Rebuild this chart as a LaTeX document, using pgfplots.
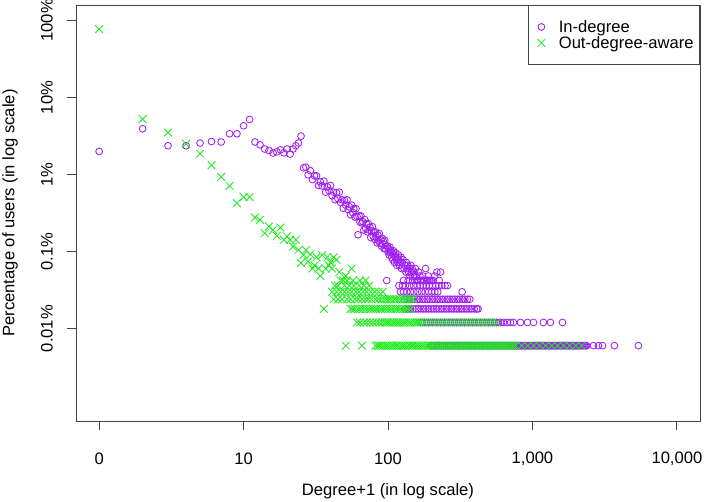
\documentclass[border=0pt]{standalone}
\usepackage{fontspec}
\setmainfont{Liberation Sans}
\usepackage{pgfplots}
\usepackage{pgfplotstable}
\pgfplotsset{compat=1.18}
\definecolor{rpurple}{RGB}{160,32,240}
\definecolor{rgreen}{RGB}{30,235,30}
\definecolor{boxgray}{RGB}{70,70,70}

\pgfplotstableread[row sep=\\]{
x y \\
1 1.99 \\ 2 3.92 \\ 3 2.36 \\ 4 2.36 \\ 5 2.56 \\ 6 2.68 \\ 7 2.64 \\ 8 3.38 \\ 9 3.38 \\ 10 4.29 \\
11 5.18 \\ 12 2.64 \\ 13 2.43 \\ 14 2.14 \\ 15 2.05 \\ 16 1.90 \\ 17 1.97 \\ 18 2.09 \\ 19 1.91 \\ 20 2.14 \\
21 1.84 \\ 22 2.14 \\ 23 2.36 \\ 24 2.56 \\ 25 3.15 \\ 26 1.22 \\ 27 1.24 \\ 28 0.99 \\ 29 1.12 \\ 30 0.86 \\
31 0.96 \\ 32 0.96 \\ 33 0.72 \\ 34 0.80 \\ 35 0.71 \\ 36 0.82 \\ 37 0.59 \\ 38 0.69 \\ 39 0.62 \\ 40 0.72 \\
41 0.53 \\ 42 0.59 \\ 43 0.47 \\ 44 0.58 \\ 45 0.485 \\ 46 0.59 \\ 47 0.43 \\ 48 0.47 \\ 49 0.365 \\ 50 0.46 \\
51 0.40 \\ 52 0.47 \\ 53 0.35 \\ 54 0.38 \\ 55 0.30 \\ 56 0.40 \\ 57 0.32 \\ 58 0.36 \\ 59 0.28 \\ 60 0.36 \\
61 0.285 \\ 62 0.165 \\ 63 0.29 \\ 64 0.24 \\ 65 0.29 \\ 66 0.235 \\ 67 0.244 \\ 68 0.19 \\ 69 0.26 \\ 70 0.20 \\
71 0.227 \\ 72 0.18 \\ 73 0.23 \\ 74 0.19 \\ 75 0.207 \\ 76 0.152 \\ 77 0.185 \\ 78 0.21 \\ 79 0.158 \\ 80 0.177 \\
81 0.144 \\ 82 0.18 \\ 83 0.153 \\ 84 0.13 \\ 85 0.164 \\ 86 0.14 \\ 87 0.171 \\ 88 0.128 \\ 89 0.143 \\ 90 0.118 \\
91 0.148 \\ 92 0.125 \\ 93 0.136 \\ 94 0.109 \\ 95 0.14 \\ 96 0.109 \\ 97 0.118 \\ 98 0.042 \\ 99 0.118 \\ 100 0.099 \\
101 0.1082 \\ 102 0.0901 \\ 103 0.1142 \\ 104 0.0962 \\ 105 0.1022 \\ 106 0.0841 \\ 107 0.0962 \\ 108 0.0781 \\
109 0.1022 \\ 110 0.0901 \\ 111 0.0721 \\ 112 0.0841 \\ 113 0.0962 \\ 114 0.0781 \\ 115 0.0661 \\ 116 0.0841 \\
117 0.0721 \\ 118 0.0901 \\ 119 0.0781 \\ 120 0.0661 \\ 121 0.0721 \\ 123 0.0841 \\ 124 0.0601 \\ 125 0.0721 \\
127 0.0781 \\ 129 0.0601 \\ 131 0.0661 \\ 133 0.0541 \\ 134 0.0721 \\ 136 0.0601 \\ 137 0.0661 \\ 139 0.0541 \\
140 0.0601 \\ 142 0.0481 \\ 144 0.0661 \\ 145 0.0541 \\ 147 0.0601 \\ 149 0.0481 \\ 151 0.0541 \\ 153 0.0481 \\
155 0.0601 \\ 157 0.0481 \\ 160 0.0421 \\ 163 0.0541 \\ 166 0.0481 \\ 170 0.0421 \\ 174 0.0481 \\ 178 0.0421 \\
182 0.0601 \\ 186 0.0421 \\ 190 0.0481 \\ 195 0.0421 \\ 200 0.0421 \\ 210 0.0481 \\ 218 0.0541 \\ 226 0.0421 \\
231 0.0541 \\
128 0.0421 \\ 138 0.0421 \\ 148 0.0421 \\ 158 0.0421 \\ 168 0.0421 \\ 176 0.0421 \\ 188 0.0421 \\ 192 0.0421 \\ 205 0.0421 \\
119 0.0361 \\ 126 0.0361 \\ 132 0.0361 \\ 141 0.0361 \\ 150 0.0361 \\ 159 0.0361 \\ 167 0.0361 \\ 175 0.0361 \\
184 0.0361 \\ 193 0.0361 \\ 203 0.0361 \\ 214 0.0361 \\ 225 0.0361 \\ 236 0.0361 \\ 248 0.0361 \\ 258 0.0361 \\
122 0.0300 \\ 128 0.0300 \\ 135 0.0300 \\ 143 0.0300 \\ 151 0.0300 \\ 161 0.0300 \\ 171 0.0300 \\ 181 0.0300 \\
191 0.0300 \\ 201 0.0300 \\ 211 0.0300 \\ 221 0.0300 \\ 326 0.0300 \\
130 0.0240 \\ 136 0.0240 \\ 141 0.0240 \\ 147 0.0240 \\ 153 0.0240 \\ 160 0.0240 \\ 166 0.0240 \\ 173 0.0240 \\
180 0.0240 \\ 187 0.0240 \\ 195 0.0240 \\ 203 0.0240 \\ 211 0.0240 \\ 220 0.0240 \\ 229 0.0240 \\ 238 0.0240 \\
248 0.0240 \\ 258 0.0240 \\ 268 0.0240 \\ 279 0.0240 \\ 290 0.0240 \\ 302 0.0240 \\ 314 0.0240 \\ 327 0.0240 \\
340 0.0240 \\ 354 0.0240 \\ 368 0.0240 \\
131 0.0180 \\ 137 0.0180 \\ 143 0.0180 \\ 149 0.0180 \\ 156 0.0180 \\ 162 0.0180 \\ 169 0.0180 \\ 176 0.0180 \\
183 0.0180 \\ 191 0.0180 \\ 199 0.0180 \\ 207 0.0180 \\ 216 0.0180 \\ 225 0.0180 \\ 234 0.0180 \\ 244 0.0180 \\
254 0.0180 \\ 264 0.0180 \\ 275 0.0180 \\ 286 0.0180 \\ 298 0.0180 \\ 310 0.0180 \\ 323 0.0180 \\ 336 0.0180 \\
350 0.0180 \\ 364 0.0180 \\ 379 0.0180 \\ 395 0.0180 \\ 411 0.0180 \\ 420 0.0180 \\
168 0.0120 \\ 173 0.0120 \\ 179 0.0120 \\ 185 0.0120 \\ 191 0.0120 \\ 197 0.0120 \\ 203 0.0120 \\ 210 0.0120 \\
217 0.0120 \\ 224 0.0120 \\ 231 0.0120 \\ 238 0.0120 \\ 246 0.0120 \\ 254 0.0120 \\ 262 0.0120 \\ 271 0.0120 \\
280 0.0120 \\ 289 0.0120 \\ 298 0.0120 \\ 308 0.0120 \\ 318 0.0120 \\ 328 0.0120 \\ 339 0.0120 \\ 350 0.0120 \\
361 0.0120 \\ 373 0.0120 \\ 385 0.0120 \\ 397 0.0120 \\ 410 0.0120 \\ 424 0.0120 \\ 437 0.0120 \\ 452 0.0120 \\
466 0.0120 \\ 481 0.0120 \\ 497 0.0120 \\ 513 0.0120 \\ 530 0.0120 \\ 547 0.0120 \\ 565 0.0120 \\ 583 0.0120 \\
602 0.0120 \\ 630 0.0120 \\ 671 0.0120 \\ 705 0.0120 \\ 739 0.0120 \\ 826 0.0120 \\ 923 0.0120 \\ 1016 0.0120 \\
1191 0.0120 \\ 1332 0.0120 \\ 1614 0.0120 \\
197 0.0060 \\ 203 0.0060 \\ 210 0.0060 \\ 217 0.0060 \\ 224 0.0060 \\ 231 0.0060 \\ 238 0.0060 \\ 246 0.0060 \\
254 0.0060 \\ 262 0.0060 \\ 271 0.0060 \\ 280 0.0060 \\ 289 0.0060 \\ 298 0.0060 \\ 308 0.0060 \\ 318 0.0060 \\
328 0.0060 \\ 339 0.0060 \\ 350 0.0060 \\ 361 0.0060 \\ 373 0.0060 \\ 385 0.0060 \\ 397 0.0060 \\ 410 0.0060 \\
424 0.0060 \\ 437 0.0060 \\ 452 0.0060 \\ 466 0.0060 \\ 481 0.0060 \\ 497 0.0060 \\ 513 0.0060 \\ 530 0.0060 \\
547 0.0060 \\ 565 0.0060 \\ 583 0.0060 \\ 602 0.0060 \\ 621 0.0060 \\ 641 0.0060 \\ 662 0.0060 \\ 684 0.0060 \\
706 0.0060 \\ 717 0.0060 \\ 729 0.0060 \\ 740 0.0060 \\ 752 0.0060 \\ 764 0.0060 \\ 777 0.0060 \\ 789 0.0060 \\
802 0.0060 \\ 815 0.0060 \\ 828 0.0060 \\ 841 0.0060 \\ 855 0.0060 \\ 868 0.0060 \\ 882 0.0060 \\ 896 0.0060 \\
911 0.0060 \\ 925 0.0060 \\ 940 0.0060 \\ 955 0.0060 \\ 971 0.0060 \\ 986 0.0060 \\ 1002 0.0060 \\ 1018 0.0060 \\
1035 0.0060 \\ 1051 0.0060 \\ 1068 0.0060 \\ 1085 0.0060 \\ 1103 0.0060 \\ 1121 0.0060 \\ 1139 0.0060 \\ 1157 0.0060 \\
1175 0.0060 \\ 1194 0.0060 \\ 1213 0.0060 \\ 1233 0.0060 \\ 1253 0.0060 \\ 1273 0.0060 \\ 1293 0.0060 \\ 1314 0.0060 \\
1335 0.0060 \\ 1357 0.0060 \\ 1379 0.0060 \\ 1401 0.0060 \\ 1423 0.0060 \\ 1446 0.0060 \\ 1469 0.0060 \\ 1493 0.0060 \\
1517 0.0060 \\ 1541 0.0060 \\ 1566 0.0060 \\ 1591 0.0060 \\ 1617 0.0060 \\ 1643 0.0060 \\ 1669 0.0060 \\ 1696 0.0060 \\
1723 0.0060 \\ 1751 0.0060 \\ 1779 0.0060 \\ 1808 0.0060 \\ 1837 0.0060 \\ 1866 0.0060 \\ 1896 0.0060 \\ 1927 0.0060 \\
1958 0.0060 \\ 1989 0.0060 \\ 2021 0.0060 \\ 2054 0.0060 \\ 2087 0.0060 \\ 2120 0.0060 \\ 2154 0.0060 \\ 2189 0.0060 \\
2224 0.0060 \\ 2260 0.0060 \\ 2296 0.0060 \\ 2333 0.0060 \\ 2371 0.0060 \\
2643 0.0060 \\ 2863 0.0060 \\ 3052 0.0060 \\ 3694 0.0060 \\ 5414 0.0060 \\
}\indeg

\pgfplotstableread[row sep=\\]{
x y \\
1 77.3 \\ 2 5.24 \\ 3 3.51 \\ 4 2.50 \\ 5 1.86 \\ 6 1.32 \\ 7 0.93 \\ 8 0.71 \\ 9 0.425 \\ 10 0.508 \\
11 0.508 \\ 12 0.277 \\ 13 0.258 \\ 14 0.173 \\ 15 0.211 \\ 16 0.190 \\ 17 0.160 \\ 18 0.205 \\ 19 0.142 \\ 20 0.157 \\
21 0.142 \\ 22 0.116 \\ 23 0.142 \\ 24 0.105 \\ 25 0.071 \\ 26 0.090 \\ 27 0.104 \\ 28 0.074 \\ 29 0.092 \\ 30 0.0601 \\
31 0.0661 \\ 32 0.0841 \\ 33 0.0601 \\ 34 0.0481 \\ 35 0.0901 \\ 36 0.0180 \\ 37 0.0601 \\ 38 0.0841 \\ 39 0.0661 \\ 40 0.0721 \\
41 0.0601 \\ 42 0.0841 \\ 44 0.0781 \\ 46 0.0541 \\ 51 0.0481 \\ 56 0.0601 \\
47 0.0421 \\ 49 0.0421 \\ 52 0.0421 \\ 57 0.0421 \\ 64 0.0421 \\ 70 0.0421 \\
43 0.0361 \\ 45 0.0361 \\ 50 0.0361 \\ 54 0.0361 \\ 58 0.0361 \\ 63 0.0361 \\ 68 0.0361 \\ 74 0.0361 \\
41 0.0300 \\ 44 0.0300 \\ 47 0.0300 \\ 50 0.0300 \\ 53 0.0300 \\ 56 0.0300 \\ 60 0.0300 \\ 63 0.0300 \\
67 0.0300 \\ 71 0.0300 \\ 76 0.0300 \\ 81 0.0300 \\ 86 0.0300 \\ 92 0.0300 \\
42 0.0240 \\ 45 0.0240 \\ 48 0.0240 \\ 52 0.0240 \\ 55 0.0240 \\ 59 0.0240 \\ 62 0.0240 \\ 66 0.0240 \\
70 0.0240 \\ 73 0.0240 \\ 77 0.0240 \\ 82 0.0240 \\ 86 0.0240 \\ 90 0.0240 \\ 94 0.0240 \\ 98 0.0240 \\
102 0.0240 \\ 106 0.0240 \\ 111 0.0240 \\ 115 0.0240 \\ 120 0.0240 \\ 126 0.0240 \\ 131 0.0240 \\ 137 0.0240 \\
143 0.0240 \\ 149 0.0240 \\
55 0.0180 \\ 57 0.0180 \\ 59 0.0180 \\ 62 0.0180 \\ 64 0.0180 \\ 67 0.0180 \\ 70 0.0180 \\ 73 0.0180 \\
76 0.0180 \\ 79 0.0180 \\ 82 0.0180 \\ 85 0.0180 \\ 89 0.0180 \\ 92 0.0180 \\ 96 0.0180 \\ 100 0.0180 \\
104 0.0180 \\ 108 0.0180 \\ 113 0.0180 \\ 117 0.0180 \\ 122 0.0180 \\ 127 0.0180 \\ 132 0.0180 \\ 137 0.0180 \\
143 0.0180 \\
61 0.0120 \\ 64 0.0120 \\ 68 0.0120 \\ 71 0.0120 \\ 75 0.0120 \\ 79 0.0120 \\ 83 0.0120 \\ 87 0.0120 \\
91 0.0120 \\ 95 0.0120 \\ 98 0.0120 \\ 101 0.0120 \\ 104 0.0120 \\ 108 0.0120 \\ 111 0.0120 \\ 115 0.0120 \\
118 0.0120 \\ 122 0.0120 \\ 126 0.0120 \\ 130 0.0120 \\ 134 0.0120 \\ 139 0.0120 \\ 143 0.0120 \\ 148 0.0120 \\
153 0.0120 \\ 158 0.0120 \\ 163 0.0120 \\ 168 0.0120 \\ 179 0.0120 \\ 191 0.0120 \\ 203 0.0120 \\ 217 0.0120 \\
231 0.0120 \\ 246 0.0120 \\ 262 0.0120 \\ 280 0.0120 \\ 298 0.0120 \\ 318 0.0120 \\ 339 0.0120 \\ 361 0.0120 \\
385 0.0120 \\ 410 0.0120 \\ 437 0.0120 \\ 466 0.0120 \\ 497 0.0120 \\ 530 0.0120 \\ 565 0.0120 \\
51 0.0060 \\ 66 0.0060 \\ 82 0.0060 \\ 85 0.0060 \\ 87 0.0060 \\ 90 0.0060 \\ 93 0.0060 \\ 96 0.0060 \\
99 0.0060 \\ 102 0.0060 \\ 106 0.0060 \\ 109 0.0060 \\ 113 0.0060 \\ 116 0.0060 \\ 120 0.0060 \\ 124 0.0060 \\
128 0.0060 \\ 132 0.0060 \\ 137 0.0060 \\ 141 0.0060 \\ 146 0.0060 \\ 150 0.0060 \\ 155 0.0060 \\ 160 0.0060 \\
165 0.0060 \\ 171 0.0060 \\ 176 0.0060 \\ 182 0.0060 \\ 188 0.0060 \\ 194 0.0060 \\ 200 0.0060 \\ 207 0.0060 \\
213 0.0060 \\ 220 0.0060 \\ 228 0.0060 \\ 235 0.0060 \\ 242 0.0060 \\ 250 0.0060 \\ 258 0.0060 \\ 267 0.0060 \\
275 0.0060 \\ 284 0.0060 \\ 294 0.0060 \\ 303 0.0060 \\ 313 0.0060 \\ 323 0.0060 \\ 334 0.0060 \\ 344 0.0060 \\
356 0.0060 \\ 367 0.0060 \\ 379 0.0060 \\ 391 0.0060 \\ 404 0.0060 \\ 417 0.0060 \\ 430 0.0060 \\ 444 0.0060 \\
459 0.0060 \\ 474 0.0060 \\ 489 0.0060 \\ 505 0.0060 \\ 521 0.0060 \\ 538 0.0060 \\ 555 0.0060 \\ 573 0.0060 \\
592 0.0060 \\ 611 0.0060 \\ 631 0.0060 \\ 651 0.0060 \\ 673 0.0060 \\ 694 0.0060 \\ 717 0.0060 \\ 740 0.0060 \\
764 0.0060 \\ 841 0.0060 \\ 925 0.0060 \\ 1018 0.0060 \\ 1120 0.0060 \\ 1233 0.0060 \\ 1357 0.0060 \\ 1493 0.0060 \\
1642 0.0060 \\ 1807 0.0060 \\ 1989 0.0060 \\ 2188 0.0060 \\
}\outdeg

\begin{document}
\begin{tikzpicture}[x=1pt,y=1pt]
\useasboundingbox (0,0) rectangle (704,501);
\begin{axis}[
  at={(76pt,80pt)}, anchor=south west,
  scale only axis, width=624pt, height=416pt,
  xmode=log, ymode=log,
  xmin=0.6918, xmax=14454, ymin=0.000631, ymax=158.5,
  axis line style={boxgray, line width=0.9pt},
  xtick={1,10,100,1000,10000},
  xticklabels={0,10,100,{1,000},{10,000}},
  ytick={0.01,0.1,1,10,100},
  yticklabels={0.01\%,0.1\%,1\%,10\%,100\%},
  xminorticks=false, yminorticks=false,
  tick align=outside, major tick length=9pt,
  xtick pos=bottom, ytick pos=left,
  tick style={boxgray, line width=0.9pt},
  ticklabel style={font=\fontsize{16.6}{20}\selectfont},
  xticklabel style={anchor=center, yshift=-28.5pt},
  yticklabel style={rotate=90, anchor=center, yshift=20pt},
  xlabel={Degree+1 (in log scale)},
  ylabel={Percentage of users (in log scale)},
  label style={font=\fontsize{16.6}{20}\selectfont},
  xlabel style={at={(axis description cs:0.5,-0.1683)}, anchor=center},
  ylabel style={at={(axis description cs:-0.1058,0.5)}, anchor=center},
  legend style={at={(1,1)}, anchor=north east, draw=boxgray, line width=0.9pt,
    font=\fontsize{16.6}{20}\selectfont, inner xsep=6pt, inner ysep=13.5pt,
    row sep=0pt, nodes={inner sep=0pt, text height=14pt, text depth=2pt},
    cells={anchor=west}},
  legend cell align=left,
  legend image code/.code={\path (-7pt,0pt) (17pt,0pt); \draw[#1] plot coordinates {(0pt,0pt)};},
]
\addplot[only marks, mark=o, mark size=3.4pt, color=rpurple, mark options={line width=0.85pt}] table[x=x,y=y] {\indeg};
\addlegendentry{In-degree}
\addplot[only marks, mark=x, mark size=5.5pt, color=rgreen, mark options={line width=0.85pt}] table[x=x,y=y] {\outdeg};
\addlegendentry{Out-degree-aware}
\end{axis}
\end{tikzpicture}
\end{document}
